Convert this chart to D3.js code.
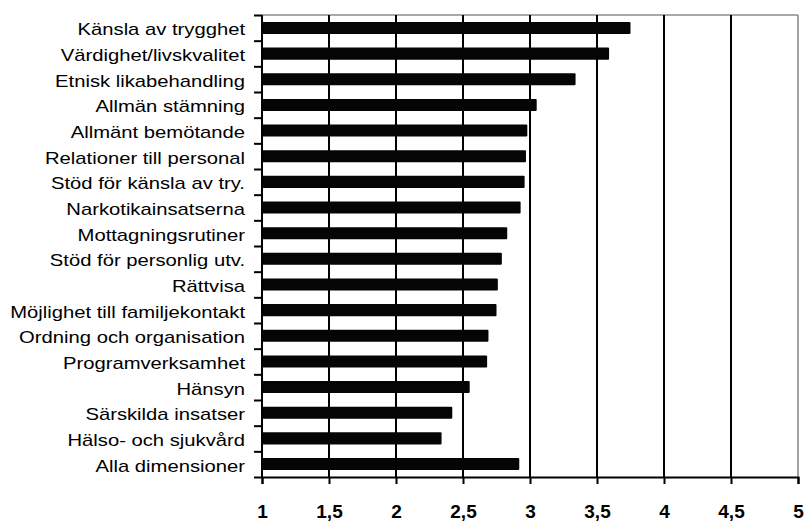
<!DOCTYPE html>
<html>
<head>
<meta charset="utf-8">
<script src="https://cdn.jsdelivr.net/npm/d3@7"></script>
<style>
  html, body { margin: 0; padding: 0; background: #fff; }
  svg { display: block; }
</style>
</head>
<body>
<svg id="chart" width="806" height="521"></svg>
<script>
const categories = [
  "Känsla av trygghet",
  "Värdighet/livskvalitet",
  "Etnisk likabehandling",
  "Allmän stämning",
  "Allmänt bemötande",
  "Relationer till personal",
  "Stöd för känsla av try.",
  "Narkotikainsatserna",
  "Mottagningsrutiner",
  "Stöd för personlig utv.",
  "Rättvisa",
  "Möjlighet till familjekontakt",
  "Ordning och organisation",
  "Programverksamhet",
  "Hänsyn",
  "Särskilda insatser",
  "Hälso- och sjukvård",
  "Alla dimensioner"
];
const values = [3.75, 3.59, 3.34, 3.05, 2.98, 2.97, 2.96, 2.93, 2.83, 2.79, 2.76, 2.75, 2.69, 2.68, 2.55, 2.42, 2.34, 2.92];
const xTicks = [1, 1.5, 2, 2.5, 3, 3.5, 4, 4.5, 5];
const gridTicks = [1.5, 2, 2.5, 3, 3.5, 4, 4.5];

const svg = d3.select("#chart");
const pLeft = 262, pRight = 798, pTop = 15, pBottom = 477;

const x = d3.scaleLinear().domain([1, 5]).range([pLeft, pRight]);
const y = d3.scaleBand().domain(categories).range([pTop, pBottom]).paddingInner(0.53).paddingOuter(0.27);
const yEdge = d3.scaleLinear().domain([0, categories.length]).range([pTop, pBottom]);

// plot border (top/right, gray)
svg.append("line").attr("x1", pLeft).attr("x2", pRight).attr("y1", pTop).attr("y2", pTop)
  .attr("stroke", "#8c8c8c").attr("stroke-width", 1.6);
svg.append("line").attr("x1", pRight).attr("x2", pRight).attr("y1", pTop).attr("y2", pBottom)
  .attr("stroke", "#8c8c8c").attr("stroke-width", 1.6);

// vertical gridlines
svg.append("g").selectAll("line").data(gridTicks).join("line")
  .attr("x1", d => x(d)).attr("x2", d => x(d))
  .attr("y1", pTop).attr("y2", pBottom)
  .attr("stroke", "#000").attr("stroke-width", 2);

// bars
svg.append("g").selectAll("rect").data(categories).join("rect")
  .attr("x", x(1))
  .attr("y", d => y(d))
  .attr("width", (d, i) => x(values[i]) - x(1))
  .attr("height", y.bandwidth())
  .attr("fill", "#050505")
  .attr("rx", 1);

// left axis ticks at band edges
const leftTicks = svg.append("g").attr("transform", `translate(${pLeft},0)`)
  .call(d3.axisLeft(yEdge).tickValues(d3.range(categories.length + 1)).tickSize(8).tickFormat(""));
leftTicks.select(".domain").remove();
leftTicks.selectAll("line").attr("stroke", "#000").attr("stroke-width", 2);

// category labels
const catAxis = svg.append("g").attr("transform", `translate(${pLeft},0)`)
  .call(d3.axisLeft(y).tickSize(0).tickPadding(0));
catAxis.select(".domain").remove();
catAxis.selectAll("text")
  .attr("x", 0).attr("dy", null)
  .attr("transform", "translate(-17,7.5) scale(1.19,1)")
  .attr("text-anchor", "end")
  .attr("font-family", "'Liberation Sans', Arial, Helvetica, sans-serif")
  .attr("font-size", "17px")
  .attr("fill", "#000");

// left axis line
svg.append("line").attr("x1", pLeft).attr("x2", pLeft).attr("y1", pTop).attr("y2", pBottom)
  .attr("stroke", "#000").attr("stroke-width", 2);

// bottom axis
const xAxis = svg.append("g").attr("transform", `translate(0,${pBottom})`)
  .call(d3.axisBottom(x).tickValues(xTicks).tickSize(7).tickPadding(21)
    .tickFormat(d => String(d).replace(".", ",")));
xAxis.select(".domain").attr("stroke", "#000").attr("stroke-width", 2);
xAxis.selectAll("line").attr("stroke", "#000").attr("stroke-width", 2);
xAxis.selectAll("text")
  .attr("font-family", "'Liberation Sans', Arial, Helvetica, sans-serif")
  .attr("font-size", "19px")
  .attr("font-weight", "bold")
  .attr("fill", "#000");
</script>
</body>
</html>
